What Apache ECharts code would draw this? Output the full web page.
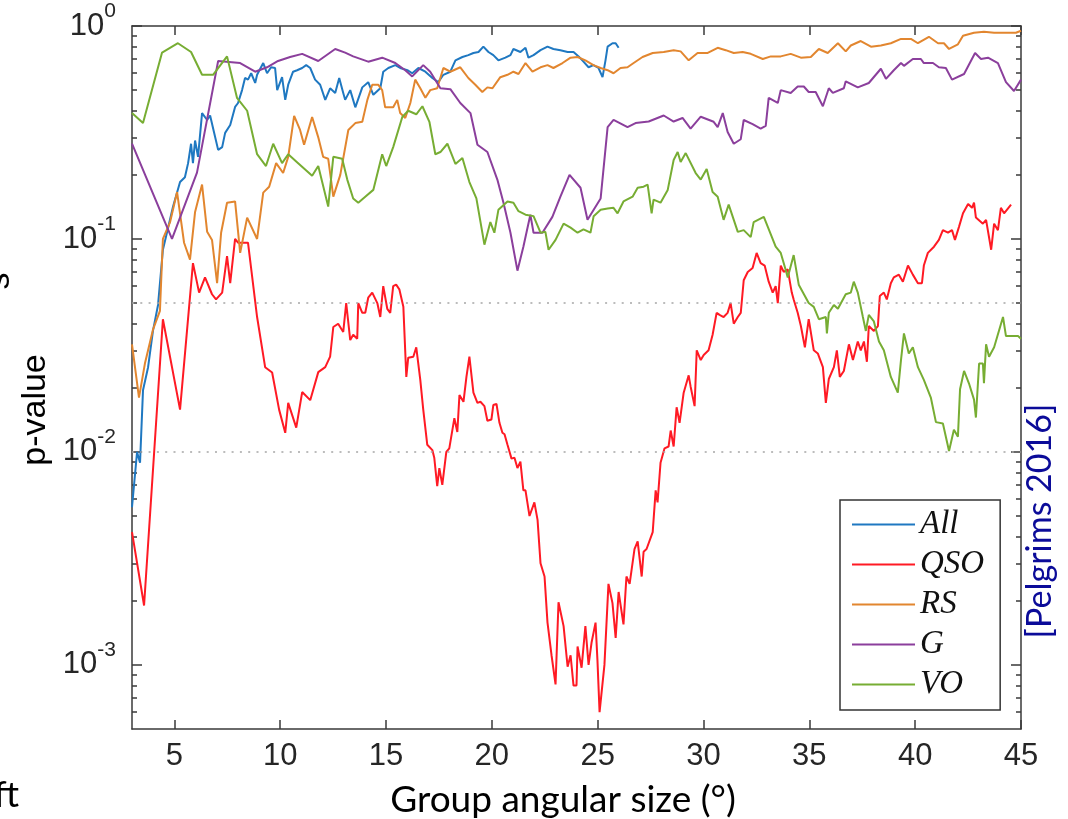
<!DOCTYPE html>
<html>
<head>
<meta charset="utf-8">
<script src="https://cdn.jsdelivr.net/npm/echarts@6/dist/echarts.min.js"></script>
<style>
  html, body { margin: 0; padding: 0; background: #fff; }
  #chart { width: 1068px; height: 819px; }
</style>
</head>
<body>
<div id="chart"></div>
<script>
// group angular size (deg) vs p-value
const xTicks = [5, 10, 15, 20, 25, 30, 35, 40, 45];
const yMajor = [0.001, 0.01, 0.1, 1];
const yMinor = [0.0006, 0.0007, 0.0008, 0.0009,
  0.002, 0.003, 0.004, 0.005, 0.006, 0.007, 0.008, 0.009,
  0.02, 0.03, 0.04, 0.05, 0.06, 0.07, 0.08, 0.09,
  0.2, 0.3, 0.4, 0.5, 0.6, 0.7, 0.8, 0.9];
const gridLevels = [0.05, 0.01];

const allData = [[3.00,0.0055],[3.24,0.010],[3.38,0.0089],[3.52,0.0195],[3.76,0.025],[3.99,0.037],[4.23,0.049],[4.46,0.089],[4.65,0.107],[4.94,0.142],[5.27,0.185],[5.50,0.195],[5.65,0.227],[5.79,0.28],[5.88,0.227],[5.98,0.29],[6.12,0.243],[6.31,0.39],[6.55,0.362],[6.69,0.38],[6.88,0.315],[7.07,0.262],[7.26,0.27],[7.40,0.315],[7.64,0.343],[7.87,0.417],[8.01,0.435],[8.20,0.50],[8.34,0.57],[8.48,0.56],[8.63,0.60],[8.82,0.54],[8.91,0.59],[9.20,0.67],[9.38,0.60],[9.57,0.64],[9.76,0.635],[9.86,0.50],[10.09,0.575],[10.24,0.45],[10.38,0.53],[10.61,0.61],[10.80,0.62],[11.04,0.635],[11.23,0.655],[11.42,0.635],[11.65,0.56],[11.89,0.53],[12.13,0.45],[12.36,0.51],[12.60,0.485],[12.79,0.57],[12.98,0.485],[13.07,0.45],[13.31,0.50],[13.55,0.415],[13.88,0.515],[14.16,0.545],[14.40,0.475],[14.73,0.51],[14.87,0.61],[15.11,0.635],[15.44,0.655],[15.67,0.635],[16.01,0.62],[16.24,0.60],[16.53,0.635],[16.86,0.61],[17.19,0.57],[17.47,0.545],[17.71,0.59],[18.04,0.61],[18.28,0.69],[18.61,0.715],[18.89,0.73],[19.13,0.747],[19.37,0.755],[19.60,0.80],[19.84,0.755],[20.07,0.73],[20.31,0.69],[20.64,0.71],[20.88,0.73],[21.02,0.78],[21.35,0.755],[21.59,0.79],[21.73,0.71],[21.97,0.73],[22.30,0.77],[22.63,0.80],[22.91,0.78],[23.24,0.77],[23.58,0.755],[23.86,0.755],[24.10,0.72],[24.33,0.68],[24.57,0.64],[24.80,0.655],[25.04,0.635],[25.23,0.575],[25.37,0.69],[25.47,0.80],[25.70,0.83],[25.85,0.83],[25.99,0.79]];

const qsoData = [[3.00,0.0042],[3.57,0.0019],[4.46,0.042],[5.27,0.0158],[5.88,0.077],[6.17,0.056],[6.45,0.066],[6.78,0.055],[6.97,0.052],[7.26,0.056],[7.49,0.083],[7.64,0.062],[7.87,0.10],[8.01,0.096],[8.48,0.096],[8.91,0.043],[9.29,0.025],[9.62,0.0236],[9.95,0.0158],[10.24,0.0123],[10.38,0.017],[10.76,0.013],[11.04,0.0191],[11.42,0.0175],[11.80,0.0237],[12.13,0.025],[12.36,0.028],[12.51,0.0386],[12.74,0.040],[12.98,0.0366],[13.12,0.050],[13.31,0.0335],[13.45,0.0355],[13.64,0.034],[13.69,0.050],[13.88,0.045],[14.02,0.045],[14.16,0.053],[14.35,0.056],[14.59,0.050],[14.73,0.043],[14.87,0.060],[15.06,0.047],[15.20,0.045],[15.34,0.060],[15.48,0.061],[15.63,0.058],[15.82,0.048],[15.96,0.0225],[16.05,0.0277],[16.29,0.028],[16.43,0.031],[16.62,0.0218],[16.76,0.0158],[16.95,0.0108],[17.19,0.0102],[17.28,0.0094],[17.42,0.0069],[17.52,0.0084],[17.66,0.0070],[17.85,0.010],[17.99,0.0104],[18.23,0.0144],[18.37,0.0124],[18.47,0.0185],[18.66,0.0172],[18.80,0.0225],[18.94,0.028],[19.13,0.019],[19.32,0.017],[19.46,0.0172],[19.65,0.0164],[19.79,0.014],[19.98,0.0142],[20.07,0.0166],[20.22,0.0168],[20.36,0.0137],[20.50,0.0123],[20.60,0.0121],[20.74,0.0108],[20.93,0.0093],[21.07,0.0094],[21.21,0.0084],[21.35,0.0090],[21.49,0.0066],[21.59,0.0066],[21.78,0.0050],[22.01,0.0058],[22.16,0.0048],[22.30,0.0030],[22.49,0.0026],[22.63,0.00158],[22.82,0.00111],[23.01,0.00081],[23.15,0.00197],[23.39,0.00152],[23.58,0.00098],[23.72,0.00111],[23.86,0.0008],[24.00,0.0008],[24.05,0.00122],[24.24,0.00097],[24.42,0.00152],[24.57,0.0010],[24.71,0.00127],[24.90,0.00158],[24.99,0.00105],[25.09,0.0006],[25.32,0.0010],[25.51,0.0024],[25.70,0.00195],[25.85,0.00134],[25.99,0.0022],[26.22,0.00155],[26.36,0.0026],[26.51,0.0024],[26.74,0.0035],[26.89,0.0038],[27.08,0.0026],[27.17,0.0034],[27.31,0.0035],[27.60,0.0042],[27.74,0.0066],[27.83,0.0058],[27.97,0.0089],[28.16,0.0104],[28.35,0.0106],[28.45,0.0126],[28.59,0.0106],[28.73,0.0162],[28.87,0.0137],[29.06,0.0189],[29.30,0.0229],[29.39,0.0203],[29.58,0.0164],[29.68,0.030],[29.87,0.027],[30.01,0.0285],[30.24,0.030],[30.43,0.0355],[30.62,0.045],[30.76,0.044],[30.95,0.043],[31.14,0.045],[31.28,0.050],[31.43,0.040],[31.62,0.043],[31.76,0.045],[31.90,0.064],[32.09,0.070],[32.32,0.073],[32.51,0.086],[32.70,0.077],[32.89,0.075],[33.08,0.063],[33.27,0.056],[33.41,0.060],[33.51,0.050],[33.65,0.075],[33.79,0.070],[33.98,0.072],[34.17,0.056],[34.26,0.052],[34.45,0.045],[34.60,0.039],[34.79,0.031],[34.97,0.042],[35.21,0.030],[35.40,0.029],[35.64,0.025],[35.78,0.0170],[35.92,0.022],[36.16,0.025],[36.30,0.030],[36.44,0.0225],[36.63,0.024],[36.87,0.032],[37.06,0.027],[37.29,0.033],[37.43,0.030],[37.58,0.033],[37.72,0.0265],[37.81,0.039],[38.05,0.037],[38.24,0.039],[38.33,0.054],[38.52,0.056],[38.66,0.052],[38.85,0.062],[38.99,0.066],[39.23,0.068],[39.42,0.063],[39.66,0.075],[39.89,0.068],[40.13,0.062],[40.32,0.062],[40.41,0.075],[40.60,0.086],[40.89,0.092],[41.12,0.099],[41.31,0.11],[41.55,0.107],[41.74,0.11],[41.88,0.099],[42.07,0.114],[42.26,0.132],[42.50,0.146],[42.69,0.14],[42.78,0.148],[42.87,0.126],[43.20,0.118],[43.35,0.123],[43.59,0.089],[43.73,0.118],[43.91,0.11],[44.05,0.14],[44.20,0.132],[44.53,0.145]];

const rsData = [[3.00,0.032],[3.33,0.018],[3.61,0.026],[3.99,0.0375],[4.32,0.046],[4.46,0.10],[4.80,0.12],[5.13,0.166],[5.46,0.096],[5.74,0.08],[5.98,0.134],[6.31,0.18],[6.55,0.108],[6.78,0.099],[7.02,0.062],[7.21,0.107],[7.49,0.148],[7.87,0.15],[8.11,0.086],[8.44,0.126],[8.91,0.10],[9.20,0.165],[9.48,0.176],[9.81,0.227],[10.14,0.204],[10.38,0.243],[10.66,0.378],[10.94,0.325],[11.13,0.277],[11.51,0.374],[11.80,0.30],[12.03,0.243],[12.27,0.238],[12.51,0.158],[12.84,0.20],[13.22,0.325],[13.55,0.35],[13.88,0.355],[14.12,0.45],[14.35,0.53],[14.63,0.53],[14.82,0.50],[14.96,0.415],[15.34,0.415],[15.53,0.45],[15.67,0.39],[15.91,0.37],[16.15,0.435],[16.38,0.56],[16.62,0.51],[16.86,0.46],[17.09,0.50],[17.42,0.51],[17.71,0.635],[18.04,0.61],[18.51,0.64],[18.89,0.57],[19.22,0.53],[19.55,0.49],[19.79,0.515],[20.03,0.51],[20.40,0.575],[20.74,0.59],[21.02,0.61],[21.26,0.595],[21.59,0.67],[21.92,0.61],[22.30,0.64],[22.63,0.655],[22.91,0.635],[23.34,0.67],[23.72,0.71],[24.05,0.715],[24.42,0.69],[24.80,0.655],[25.14,0.635],[25.47,0.62],[25.75,0.60],[26.08,0.635],[26.41,0.64],[26.70,0.67],[27.12,0.715],[27.60,0.747],[28.12,0.755],[28.59,0.77],[28.92,0.76],[29.30,0.69],[29.72,0.747],[30.20,0.747],[30.67,0.79],[31.05,0.77],[31.43,0.747],[31.85,0.755],[32.23,0.74],[32.80,0.70],[33.18,0.72],[33.65,0.72],[34.12,0.74],[34.60,0.71],[35.07,0.715],[35.45,0.78],[35.87,0.747],[36.35,0.83],[36.72,0.76],[36.96,0.81],[37.43,0.85],[37.91,0.80],[38.38,0.81],[38.85,0.83],[39.33,0.87],[39.80,0.87],[40.13,0.83],[40.65,0.89],[41.08,0.83],[41.36,0.83],[41.60,0.78],[42.02,0.82],[42.26,0.90],[42.78,0.93],[43.25,0.94],[43.73,0.93],[44.29,0.93],[44.76,0.93],[45.00,0.95]];

const gData = [[3.00,0.28],[4.89,0.10],[6.07,0.205],[7.07,0.685],[8.11,0.67],[8.82,0.61],[9.38,0.64],[9.90,0.685],[10.47,0.715],[11.04,0.74],[11.80,0.685],[12.60,0.78],[13.07,0.75],[13.45,0.72],[14.16,0.68],[14.82,0.71],[15.44,0.67],[15.91,0.62],[16.24,0.58],[16.76,0.655],[17.09,0.61],[17.57,0.51],[18.04,0.505],[18.51,0.435],[18.99,0.39],[19.32,0.277],[19.79,0.256],[20.26,0.19],[20.55,0.148],[20.88,0.107],[21.21,0.071],[21.49,0.092],[21.82,0.13],[21.97,0.107],[22.39,0.107],[22.86,0.127],[23.24,0.158],[23.67,0.20],[24.19,0.174],[24.52,0.123],[25.14,0.155],[25.47,0.335],[25.75,0.362],[26.41,0.335],[26.79,0.35],[27.41,0.356],[28.12,0.38],[28.59,0.356],[29.01,0.37],[29.39,0.33],[29.87,0.375],[30.48,0.355],[30.67,0.335],[30.91,0.39],[31.14,0.318],[31.43,0.28],[31.76,0.294],[31.90,0.362],[32.32,0.346],[32.70,0.33],[32.94,0.34],[33.08,0.46],[33.51,0.435],[33.65,0.50],[34.12,0.485],[34.45,0.52],[34.74,0.52],[34.97,0.49],[35.30,0.49],[35.64,0.42],[35.92,0.51],[36.11,0.485],[36.63,0.51],[36.72,0.55],[37.29,0.515],[37.81,0.54],[38.38,0.63],[38.62,0.565],[38.99,0.62],[39.33,0.67],[39.47,0.65],[39.89,0.70],[40.27,0.70],[40.41,0.67],[40.84,0.67],[41.12,0.64],[41.45,0.635],[41.74,0.56],[42.31,0.595],[42.83,0.747],[43.11,0.70],[43.44,0.71],[43.91,0.67],[44.29,0.545],[44.67,0.495],[45.00,0.56]];

const voData = [[3.00,0.39],[3.52,0.35],[4.42,0.75],[5.17,0.83],[5.79,0.755],[6.31,0.59],[6.83,0.59],[7.49,0.72],[7.96,0.46],[8.44,0.40],[8.91,0.25],[9.33,0.22],[9.67,0.28],[10.09,0.227],[10.38,0.25],[10.85,0.227],[11.51,0.198],[11.80,0.22],[12.27,0.142],[12.51,0.243],[12.93,0.238],[13.17,0.19],[13.45,0.155],[13.69,0.148],[14.02,0.158],[14.40,0.17],[14.82,0.25],[15.01,0.22],[15.34,0.27],[15.77,0.374],[16.05,0.40],[16.43,0.385],[16.72,0.42],[17.05,0.355],[17.33,0.25],[17.57,0.256],[17.90,0.28],[18.28,0.225],[18.61,0.24],[18.94,0.185],[19.27,0.155],[19.65,0.094],[19.93,0.12],[20.12,0.107],[20.31,0.137],[20.74,0.15],[21.02,0.148],[21.26,0.135],[21.59,0.13],[21.97,0.128],[22.30,0.107],[22.53,0.108],[22.68,0.089],[23.01,0.099],[23.39,0.118],[23.72,0.113],[24.05,0.107],[24.33,0.111],[24.66,0.107],[24.81,0.128],[25.14,0.137],[25.47,0.139],[25.75,0.14],[25.94,0.132],[26.22,0.15],[26.65,0.158],[26.89,0.174],[27.17,0.176],[27.36,0.18],[27.55,0.132],[27.64,0.153],[27.97,0.148],[28.31,0.17],[28.59,0.235],[28.78,0.256],[28.92,0.23],[29.16,0.253],[29.63,0.204],[29.87,0.19],[30.15,0.213],[30.43,0.166],[30.67,0.158],[30.95,0.123],[31.19,0.145],[31.62,0.108],[31.90,0.11],[32.23,0.102],[32.37,0.12],[32.85,0.127],[33.41,0.092],[33.65,0.086],[33.84,0.074],[33.98,0.066],[34.26,0.084],[34.50,0.061],[34.97,0.05],[35.21,0.048],[35.45,0.042],[35.78,0.043],[35.83,0.036],[35.92,0.045],[36.16,0.049],[36.35,0.047],[36.72,0.055],[36.96,0.056],[37.10,0.063],[37.29,0.056],[37.53,0.043],[37.67,0.037],[37.81,0.044],[38.05,0.041],[38.29,0.033],[38.52,0.030],[38.85,0.0225],[39.18,0.019],[39.33,0.027],[39.47,0.036],[39.70,0.029],[39.89,0.031],[40.13,0.025],[40.41,0.0218],[40.74,0.018],[40.98,0.0138],[41.31,0.0136],[41.60,0.0101],[41.83,0.0127],[42.02,0.0118],[42.12,0.0197],[42.31,0.024],[42.54,0.021],[42.78,0.0176],[42.87,0.0145],[43.02,0.026],[43.20,0.026],[43.25,0.021],[43.35,0.032],[43.49,0.028],[43.73,0.031],[44.15,0.043],[44.29,0.035],[44.67,0.035],[44.86,0.035],[45.00,0.034]];

const seriesNames = ['All', 'QSO', 'RS', 'G', 'VO'];
const seriesColors = ['#1f78c1', '#ff1a24', '#e2862f', '#8b3f9c', '#77ad33'];
const seriesData = [allData, qsoData, rsData, gData, voData];

const axisColor = '#3a3a3a';
const tickFont = 'Liberation Sans, Arial, sans-serif';

function logAxis(position, ticks, len, showLine, labels) {
  return {
    type: 'log',
    logBase: 10,
    min: 0.0005,
    max: 1,
    position: position,
    axisLine: { show: showLine, lineStyle: { color: axisColor, width: 1.5 } },
    axisTick: { show: true, inside: true, length: len, customValues: ticks,
      lineStyle: { color: axisColor, width: 1.5 } },
    minorTick: { show: false },
    splitLine: { show: false },
    axisLabel: labels ? {
      customValues: yMajor,
      margin: 16,
      formatter: function (v) {
        return '{b|10}{e|' + Math.round(Math.log10(v)) + '}';
      },
      rich: {
        b: { fontSize: 31, fontFamily: tickFont, color: '#262626', lineHeight: 50 },
        e: { fontSize: 21, fontFamily: tickFont, color: '#262626', lineHeight: 22,
          verticalAlign: 'top' }
      }
    } : { show: false }
  };
}

function xAxisAt(position, labels) {
  return {
    type: 'value',
    min: 3,
    max: 45,
    position: position,
    axisLine: { lineStyle: { color: axisColor, width: 1.5 } },
    axisTick: { inside: true, length: 9, customValues: xTicks,
      lineStyle: { color: axisColor, width: 1.5 } },
    splitLine: { show: false },
    axisLabel: labels ? {
      customValues: xTicks, fontSize: 31, fontFamily: tickFont, color: '#262626', margin: 12
    } : { show: false }
  };
}

const series = seriesNames.map(function (name, i) {
  const s = {
    name: name,
    type: 'line',
    data: seriesData[i],
    xAxisIndex: 0,
    yAxisIndex: 0,
    symbol: 'none',
    showSymbol: false,
    lineStyle: { color: seriesColors[i], width: 2 },
    itemStyle: { color: seriesColors[i] }
  };
  if (i === 0) {
    s.markLine = {
      silent: true,
      symbol: 'none',
      label: { show: false },
      lineStyle: { color: '#a6a6a6', type: [2, 6.3], width: 1.6 },
      data: gridLevels.map(function (v) { return { yAxis: v }; })
    };
  }
  return s;
});

const chart = echarts.init(document.getElementById('chart'));
chart.setOption({
  animation: false,
  backgroundColor: '#fff',
  grid: { left: 132, top: 26, right: 47, bottom: 90, containLabel: false, outerBoundsMode: 'none' },
  xAxis: [xAxisAt('bottom', true), xAxisAt('top', false)],
  yAxis: [
    logAxis('left', yMajor, 10, true, true),
    logAxis('left', yMinor, 5, false, false),
    logAxis('right', yMajor, 10, true, false),
    logAxis('right', yMinor, 5, false, false)
  ],
  legend: {
    data: seriesNames,
    orient: 'vertical',
    left: 840,
    top: 500,
    icon: 'rect',
    itemWidth: 63,
    itemHeight: 2,
    itemGap: 7,
    padding: [8, 16, 9, 12],
    borderColor: '#333',
    borderWidth: 1.5,
    backgroundColor: '#fff',
    selectedMode: false,
    textStyle: { fontFamily: 'Liberation Serif, serif', fontStyle: 'italic', fontSize: 33, color: '#111' }
  },
  graphic: [
    { type: 'text', x: 36, y: 410, rotation: Math.PI / 2,
      style: { text: 'p-value', font: '34px Liberation Sans, Arial, sans-serif', fill: '#000',
        align: 'center', verticalAlign: 'middle', textAlign: 'center', textVerticalAlign: 'middle' } },
    { type: 'text', x: 0, y: 281, rotation: Math.PI / 2,
      style: { text: 's', font: '34px Liberation Sans, Arial, sans-serif', fill: '#000',
        align: 'center', verticalAlign: 'middle', textAlign: 'center', textVerticalAlign: 'middle' } },
    { type: 'text', x: 563, y: 800,
      style: { text: 'Group angular size (°)', font: '37px Lato, sans-serif', fill: '#000',
        align: 'center', verticalAlign: 'middle', textAlign: 'center', textVerticalAlign: 'middle' } },
    { type: 'text', x: 19, y: 795,
      style: { text: 'ft', font: '37px Lato, sans-serif', fill: '#000',
        align: 'right', verticalAlign: 'middle', textAlign: 'right', textVerticalAlign: 'middle' } },
    { type: 'text', x: 1040, y: 521, rotation: Math.PI / 2,
      style: { text: '[Pelgrims 2016]', font: '34px Lato, sans-serif', fill: '#0b0b99',
        align: 'center', verticalAlign: 'middle', textAlign: 'center', textVerticalAlign: 'middle' } }
  ],
  series: series
});
</script>
</body>
</html>
